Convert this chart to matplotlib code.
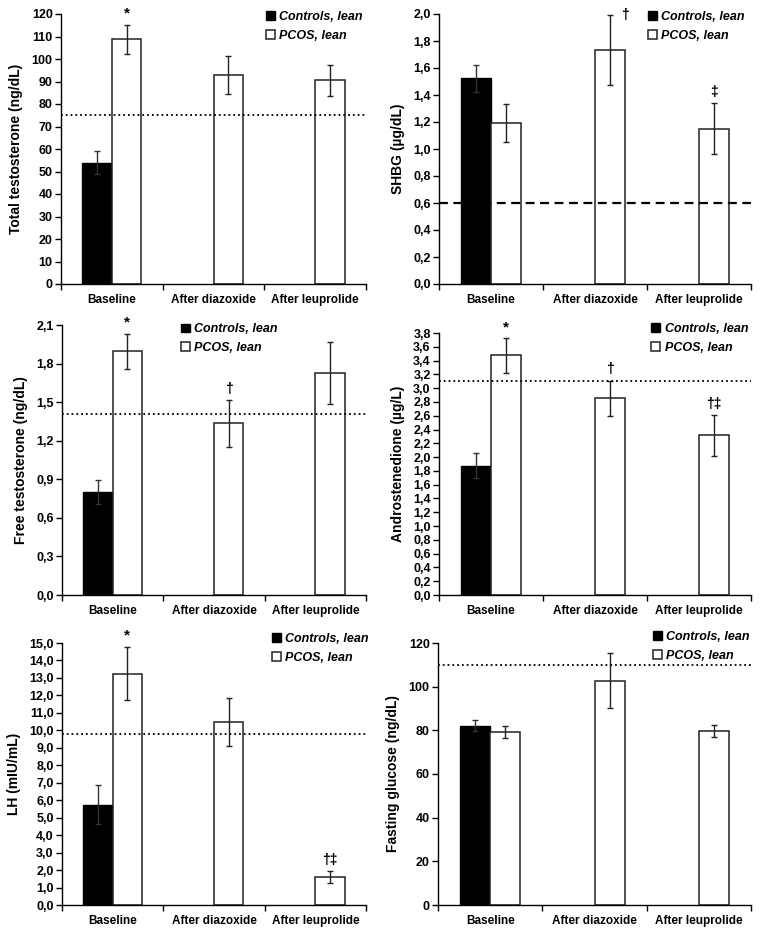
import numpy as np
import matplotlib
matplotlib.use("Agg")
import matplotlib.pyplot as plt
from matplotlib.ticker import FuncFormatter, FixedLocator

plt.rcParams['font.family'] = ['Liberation Sans', 'DejaVu Sans']
plt.rcParams['font.weight'] = 'bold'

categories = ["Baseline", "After diazoxide", "After leuprolide"]
series_names = ["Controls, lean", "PCOS, lean"]
nan = np.nan

# Total testosterone (ng/dL)
tt_ctrl = [54, nan, nan]
tt_ctrl_err = [5, nan, nan]
tt_pcos = [108.8, 93.0, 90.5]
tt_pcos_err = [6.5, 8.5, 7.0]

# SHBG (µg/dL)
shbg_ctrl = [1.525, nan, nan]
shbg_ctrl_err = [0.10, nan, nan]
shbg_pcos = [1.19, 1.735, 1.15]
shbg_pcos_err = [0.14, 0.26, 0.19]

# Free testosterone (ng/dL)
ft_ctrl = [0.80, nan, nan]
ft_ctrl_err = [0.095, nan, nan]
ft_pcos = [1.895, 1.335, 1.725]
ft_pcos_err = [0.134, 0.18, 0.24]

# Androstenedione (µg/L)
a4_ctrl = [1.875, nan, nan]
a4_ctrl_err = [0.185, nan, nan]
a4_pcos = [3.475, 2.855, 2.315]
a4_pcos_err = [0.25, 0.256, 0.30]

# LH (mIU/mL)
lh_ctrl = [5.75, nan, nan]
lh_ctrl_err = [1.11, nan, nan]
lh_pcos = [13.25, 10.48, 1.60]
lh_pcos_err = [1.52, 1.37, 0.35]

# Fasting glucose (ng/dL)
gl_ctrl = [82.1, nan, nan]
gl_ctrl_err = [2.6, nan, nan]
gl_pcos = [79.4, 102.7, 79.7]
gl_pcos_err = [2.8, 12.6, 2.6]

ref_lines = [75, 0.6, 1.41, 3.1, 9.8, 110]

# marks: (category index, text, x offset pt, y offset pt, vertical alignment)
panels = [
    dict(ylabel="Total testosterone (ng/dL)", ctrl=tt_ctrl, ce=tt_ctrl_err, pcos=tt_pcos, pe=tt_pcos_err,
         ymax=120, step=10, dec=0, ref=ref_lines[0], ls=':', lw=1.3,
         marks=[(0, "*", 0, 3, 'bottom')], box=[61, 14, 366, 284], leg=(0.655, 1.03)),
    dict(ylabel="SHBG (µg/dL)", ctrl=shbg_ctrl, ce=shbg_ctrl_err, pcos=shbg_pcos, pe=shbg_pcos_err,
         ymax=2.0, step=0.2, dec=1, ref=ref_lines[1], ls=(0, (4, 2.5)), lw=1.6,
         marks=[(1, "†", 11, 0, 'center'), (2, "‡", 0, 3, 'bottom')], box=[439, 14, 751, 284], leg=(0.655, 1.03)),
    dict(ylabel="Free testosterone (ng/dL)", ctrl=ft_ctrl, ce=ft_ctrl_err, pcos=ft_pcos, pe=ft_pcos_err,
         ymax=2.1, step=0.3, dec=1, ref=ref_lines[2], ls=':', lw=1.3,
         marks=[(0, "*", 0, 3, 'bottom'), (1, "†", 0, 3, 'bottom')], box=[62, 325, 366, 595], leg=(0.375, 1.025)),
    dict(ylabel="Androstenedione (µg/L)", ctrl=a4_ctrl, ce=a4_ctrl_err, pcos=a4_pcos, pe=a4_pcos_err,
         ymax=3.8, step=0.2, dec=1, ref=ref_lines[3], ls=':', lw=1.3,
         marks=[(0, "*", 0, 3, 'bottom'), (1, "†", 0, 3, 'bottom'), (2, "†‡", 0, 3, 'bottom')],
         box=[439, 333, 751, 595], leg=(0.665, 1.058)),
    dict(ylabel="LH (mIU/mL)", ctrl=lh_ctrl, ce=lh_ctrl_err, pcos=lh_pcos, pe=lh_pcos_err,
         ymax=15.0, step=1.0, dec=1, ref=ref_lines[4], ls=':', lw=1.3,
         marks=[(0, "*", 0, 3, 'bottom'), (2, "†‡", 0, 3, 'bottom')], box=[62, 643, 366, 905], leg=(0.675, 1.058)),
    dict(ylabel="Fasting glucose (ng/dL)", ctrl=gl_ctrl, ce=gl_ctrl_err, pcos=gl_pcos, pe=gl_pcos_err,
         ymax=120, step=20, dec=0, ref=ref_lines[5], ls=':', lw=1.3,
         marks=[], box=[438, 643, 751, 905], leg=(0.672, 1.065)),
]

W, H = 763, 936
fig = plt.figure(figsize=(W / 100, H / 100), dpi=100)

bw = 0.29
x = np.arange(len(categories)) + 0.5

for p in panels:
    l, t, r, b = p["box"]
    ax = fig.add_axes([l / W, 1 - b / H, (r - l) / W, (b - t) / H])
    ctrl = np.array(p["ctrl"], dtype=float)
    pcos = np.array(p["pcos"], dtype=float)
    b1 = ax.bar(x - bw / 2, ctrl, bw, color="black", edgecolor="black", linewidth=1.0,
                label=series_names[0], zorder=2)
    b2 = ax.bar(x + bw / 2, pcos, bw, color="white", edgecolor="#222222", linewidth=1.1,
                label=series_names[1], zorder=2)
    ax.errorbar(x - bw / 2, ctrl, yerr=np.array(p["ce"], dtype=float), fmt='none',
                ecolor="#333333", elinewidth=1.0, capsize=2.5, capthick=1.0, zorder=3)
    ax.errorbar(x + bw / 2, pcos, yerr=np.array(p["pe"], dtype=float), fmt='none',
                ecolor="#222222", elinewidth=1.0, capsize=2.5, capthick=1.0, zorder=3)
    ax.axhline(p["ref"], color="black", linestyle=p["ls"], linewidth=p["lw"], zorder=4)

    ax.set_xlim(0, 3)
    ax.set_ylim(0, p["ymax"])
    n = int(round(p["ymax"] / p["step"]))
    ticks = [i * p["step"] for i in range(n + 1)]
    ax.yaxis.set_major_locator(FixedLocator(ticks))
    dec = p["dec"]
    ax.yaxis.set_major_formatter(FuncFormatter(
        lambda v, pos, d=dec: (f"{v:.{d}f}").replace(".", ",")))
    ax.set_xticks([0, 1, 2, 3])
    ax.set_xticklabels([])
    ax.set_xticks(x, minor=True)
    ax.set_xticklabels(categories, minor=True)
    ax.tick_params(axis='x', which='minor', length=0, pad=7, labelsize=8.5)
    ax.tick_params(axis='x', which='major', length=4, width=1, direction='out')
    ax.tick_params(axis='y', length=4, width=1, direction='out', labelsize=9, pad=2)
    for lab in ax.get_xticklabels(minor=True) + ax.get_yticklabels():
        lab.set_fontweight('bold')
    ax.spines['top'].set_visible(False)
    ax.spines['right'].set_visible(False)
    ax.spines['left'].set_linewidth(1.0)
    ax.spines['bottom'].set_linewidth(1.0)
    ax.set_ylabel(p["ylabel"], fontsize=10, labelpad=6)
    ax.yaxis.label.set_fontweight('bold')

    for (ci, txt, dx, dy, va) in p["marks"]:
        ytop = pcos[ci] + p["pe"][ci]
        ax.annotate(txt, xy=(x[ci] + bw / 2, ytop), xytext=(dx, dy),
                    textcoords='offset points', ha='center', va=va,
                    fontsize=10 if txt != "*" else 11, fontweight='bold')

    leg = ax.legend(handles=[b1, b2], loc='upper left', bbox_to_anchor=p["leg"],
                    frameon=False, handlelength=0.7, handleheight=0.7,
                    handletextpad=0.35, labelspacing=0.55, borderaxespad=0,
                    prop=dict(size=9, weight='bold', style='italic'))

fig.savefig("out.png", dpi=100)
